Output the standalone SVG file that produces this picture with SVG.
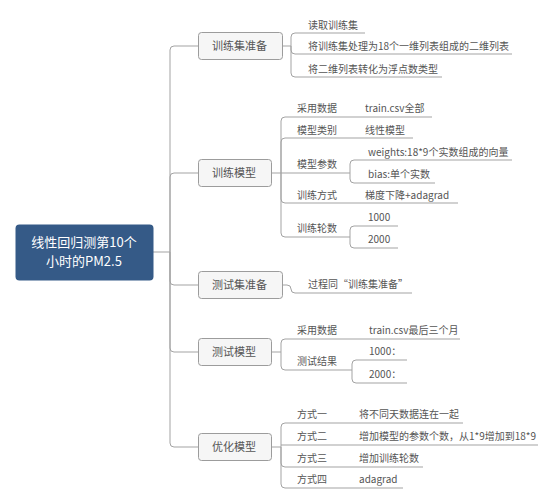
<svg xmlns="http://www.w3.org/2000/svg" width="554" height="504" viewBox="0 0 554 504">
<style>
.c{fill:none;stroke:#a3a3a3;stroke-width:1}
.b{fill:#f6f6f6;stroke:#9c9c9c;stroke-width:1}
.bt{font-family:"Noto Sans CJK SC",sans-serif;font-size:11px;fill:#555}
.t{font-family:"Noto Sans CJK SC",sans-serif;font-size:10px;fill:#555}
.rt{font-family:"Noto Sans CJK SC",sans-serif;font-size:13px;fill:#fff;text-anchor:middle}
</style>
<rect width="554" height="504" fill="#fff"/>
<g id="connectors">
<path class="c" d="M153,252 H170"/>
<path class="c" d="M170,252 V50 Q170,46 174,46 H198"/>
<path class="c" d="M170,252 V177 Q170,173 174,173 H198"/>
<path class="c" d="M170,252 V281 Q170,285 174,285 H198"/>
<path class="c" d="M170,252 V348 Q170,352 174,352 H198"/>
<path class="c" d="M170,252 V443 Q170,447 174,447 H198"/>
<path class="c" d="M283,46 H291"/>
<path class="c" d="M291,46 V37 Q291,33 295,33 H365"/>
<path class="c" d="M291,46 V50 Q291,54 295,54 H512"/>
<path class="c" d="M291,46 V73 Q291,77 295,77 H442"/>
<path class="c" d="M272,173 H281"/>
<path class="c" d="M281,173 V121 Q281,117 285,117 H432"/>
<path class="c" d="M281,173 V142 Q281,138 285,138 H413"/>
<path class="c" d="M281,173 H350"/>
<path class="c" d="M281,173 V199 Q281,203 285,203 H458"/>
<path class="c" d="M281,173 V233 Q281,237 285,237 H350"/>
<path class="c" d="M350,173 V164 Q350,160 354,160 H512"/>
<path class="c" d="M350,173 V179 Q350,183 354,183 H435"/>
<path class="c" d="M350,237 V230 Q350,226 354,226 H398"/>
<path class="c" d="M350,237 V244 Q350,248 354,248 H398"/>
<path class="c" d="M283,285 H287 Q291,285 291,289 Q291,293 295,293 H412"/>
<path class="c" d="M272,352 H281"/>
<path class="c" d="M281,352 V343 Q281,339 285,339 H460"/>
<path class="c" d="M281,352 V366 Q281,370 285,370 H352"/>
<path class="c" d="M352,370 V364 Q352,360 356,360 H407"/>
<path class="c" d="M352,370 V379 Q352,383 356,383 H407"/>
<path class="c" d="M272,447 H281"/>
<path class="c" d="M281,447 V427 Q281,423 285,423 H463"/>
<path class="c" d="M281,445 H538"/>
<path class="c" d="M281,447 V463 Q281,467 285,467 H423"/>
<path class="c" d="M281,447 V484 Q281,488 285,488 H403"/>
</g>
<g id="root">
<rect x="15.5" y="224.5" width="138" height="56" rx="4" fill="#355a87"/>
<text class="rt" x="84" y="247">线性回归测第10个</text>
<text class="rt" x="84" y="266">小时的PM2.5</text>
</g>
<g id="n1">
<rect class="b" x="198.5" y="32.5" width="84" height="27" rx="3"/>
<text class="bt" x="212" y="50">训练集准备</text>
</g>
<g id="n1-1"><text class="t" x="308" y="29">读取训练集</text></g>
<g id="n1-2"><text class="t" x="308" y="50">将训练集处理为18个一维列表组成的二维列表</text></g>
<g id="n1-3"><text class="t" x="308" y="73">将二维列表转化为浮点数类型</text></g>
<g id="n2">
<rect class="b" x="198.5" y="159.5" width="73" height="27" rx="3"/>
<text class="bt" x="212" y="177">训练模型</text>
</g>
<g id="n2-1"><text class="t" x="297" y="112">采用数据</text></g>
<g id="n2-1-1"><text class="t" x="365" y="112">train.csv全部</text></g>
<g id="n2-2"><text class="t" x="297" y="134">模型类别</text></g>
<g id="n2-2-1"><text class="t" x="365" y="134">线性模型</text></g>
<g id="n2-3"><text class="t" x="297" y="168">模型参数</text></g>
<g id="n2-3-1"><text class="t" x="368" y="156">weights:18*9个实数组成的向量</text></g>
<g id="n2-3-2"><text class="t" x="368" y="178">bias:单个实数</text></g>
<g id="n2-4"><text class="t" x="297" y="199">训练方式</text></g>
<g id="n2-4-1"><text class="t" x="365" y="199">梯度下降+adagrad</text></g>
<g id="n2-5"><text class="t" x="297" y="232">训练轮数</text></g>
<g id="n2-5-1"><text class="t" x="368" y="221">1000</text></g>
<g id="n2-5-2"><text class="t" x="368" y="243">2000</text></g>
<g id="n3">
<rect class="b" x="198.5" y="271.5" width="84" height="27" rx="3"/>
<text class="bt" x="212" y="289">测试集准备</text>
</g>
<g id="n3-1"><text class="t" x="308" y="288">过程同“训练集准备”</text></g>
<g id="n4">
<rect class="b" x="198.5" y="338.5" width="73" height="27" rx="3"/>
<text class="bt" x="212" y="356">测试模型</text>
</g>
<g id="n4-1"><text class="t" x="297" y="334">采用数据</text></g>
<g id="n4-1-1"><text class="t" x="369" y="334">train.csv最后三个月</text></g>
<g id="n4-2"><text class="t" x="297" y="365">测试结果</text></g>
<g id="n4-2-1"><text class="t" x="369" y="355">1000：</text></g>
<g id="n4-2-2"><text class="t" x="369" y="378">2000：</text></g>
<g id="n5">
<rect class="b" x="198.5" y="433.5" width="73" height="27" rx="3"/>
<text class="bt" x="212" y="451">优化模型</text>
</g>
<g id="n5-1"><text class="t" x="297" y="418">方式一</text></g>
<g id="n5-1-1"><text class="t" x="359" y="418">将不同天数据连在一起</text></g>
<g id="n5-2"><text class="t" x="297" y="440">方式二</text></g>
<g id="n5-2-1"><text class="t" x="359" y="440">增加模型的参数个数，从1*9增加到18*9</text></g>
<g id="n5-3"><text class="t" x="297" y="462">方式三</text></g>
<g id="n5-3-1"><text class="t" x="359" y="462">增加训练轮数</text></g>
<g id="n5-4"><text class="t" x="297" y="483">方式四</text></g>
<g id="n5-4-1"><text class="t" x="359" y="483">adagrad</text></g>
</svg>
